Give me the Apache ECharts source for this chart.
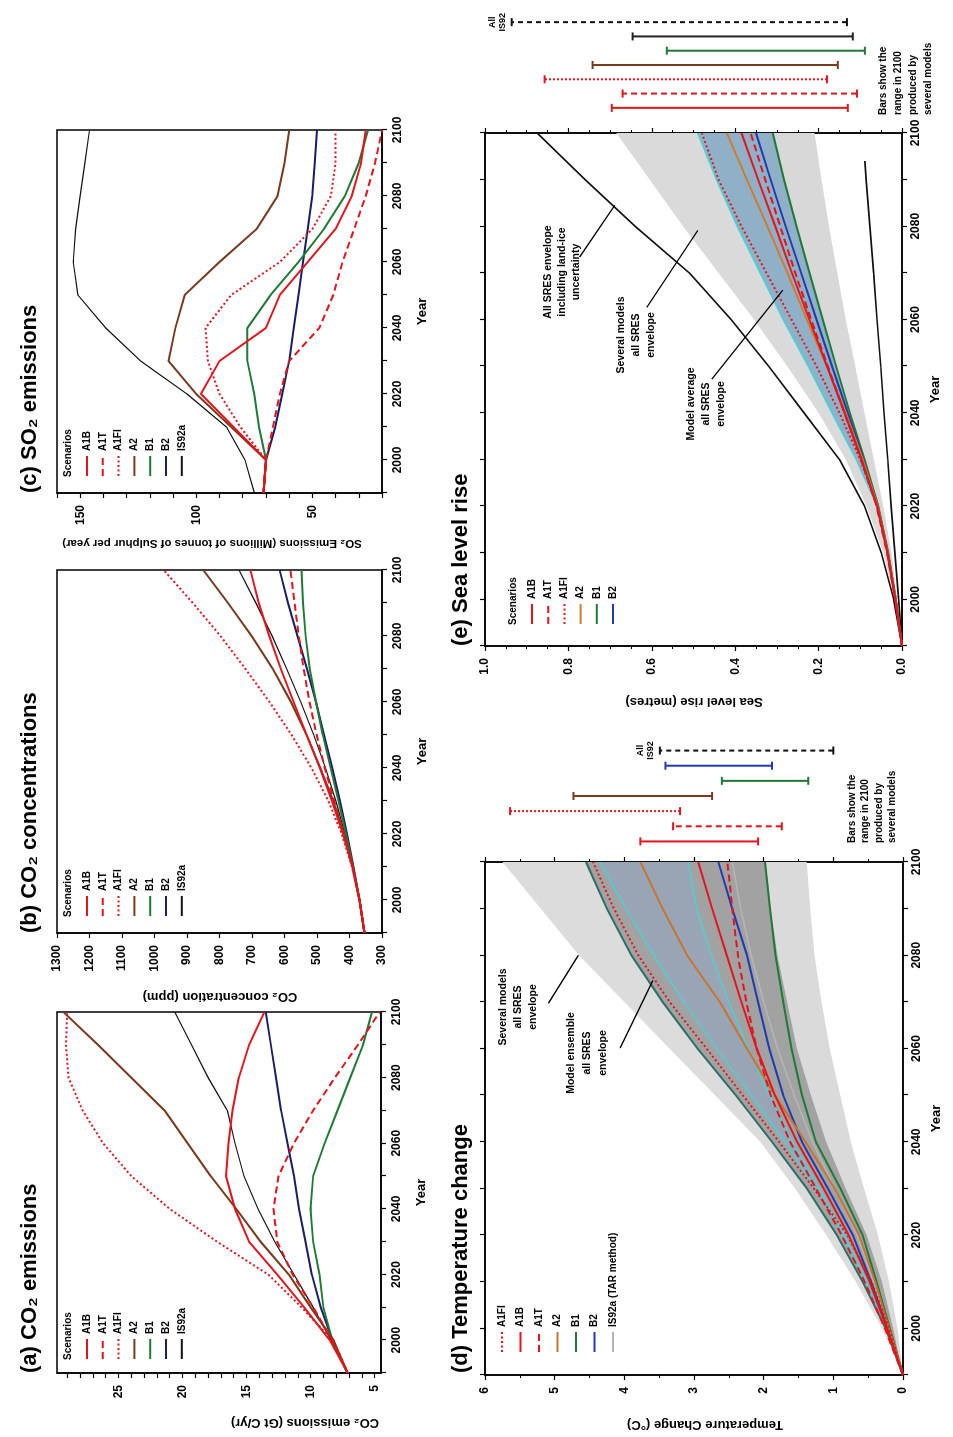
<!DOCTYPE html>
<html><head><meta charset="utf-8">
<script src="https://cdn.jsdelivr.net/npm/echarts@6/dist/echarts.min.js"></script>
<style>
html,body{margin:0;padding:0;background:#fff;overflow:hidden;width:953px;height:1437px;}
#rot{position:absolute;left:0;top:0;width:1437px;height:953px;transform-origin:0 0;transform:translate(0px,1437px) rotate(-90deg);}
#chart{width:1437px;height:953px;}
</style></head><body>
<div id="rot"><div id="chart"></div></div>
<script>
// ---------------- DATA ----------------
const years = [1990,2000,2010,2020,2030,2040,2050,2060,2070,2080,2090,2100];

// (a) CO2 emissions (Gt C/yr)
const emA1B  = [7.1, 8.5, 10.5, 12.6, 14.8, 15.9, 16.6, 16.4, 16.1, 15.6, 14.8, 13.6];
const emA1T  = [7.1, 8.3, 9.8, 11.4, 12.6, 12.9, 12.5, 11.3, 9.8, 8.1, 6.3, 4.6];
const emA1FI = [7.1, 8.3, 10.7, 13.3, 17.3, 21.0, 24.0, 26.2, 27.8, 28.9, 29.1, 29.0];
const emA2   = [7.1, 8.2, 10.0, 11.7, 13.9, 15.8, 17.8, 19.6, 21.4, 24.0, 26.6, 29.3];
const emB1   = [7.1, 8.3, 9.0, 9.3, 9.8, 10.0, 9.8, 8.9, 7.9, 6.9, 5.9, 5.2];
const emB2   = [7.1, 8.3, 9.2, 9.9, 10.4, 10.9, 11.3, 11.8, 12.3, 12.7, 13.1, 13.5];
const emIS92a= [7.1, 8.4, 9.8, 11.3, 12.8, 14.1, 15.2, 15.9, 16.5, 18.0, 19.3, 20.6];
const emTicks  = [5,6,7,8,9,10,11,12,13,14,15,16,17,18,19,20,21,22,23,24,25,26,27,28,29];
const emLabels = [5,10,15,20,25];

// (b) CO2 concentrations (ppm)
const ppA1B  = [354, 369, 391, 420, 454, 491, 532, 572, 611, 647, 679, 705];
const ppA1T  = [354, 369, 390, 417, 447, 476, 501, 523, 541, 556, 569, 582];
const ppA1FI = [354, 369, 392, 424, 465, 517, 578, 646, 720, 797, 882, 972];
const ppA2   = [354, 369, 391, 417, 450, 490, 532, 580, 636, 701, 774, 850];
const ppB1   = [354, 369, 389, 411, 434, 458, 482, 503, 522, 535, 543, 548];
const ppB2   = [354, 369, 388, 408, 429, 453, 478, 503, 531, 560, 589, 615];
const ppIS92a= [354, 369, 390, 414, 442, 474, 510, 550, 593, 638, 688, 740];

// (c) SO2 emissions (Mt S/yr)
const soA1B  = [71, 70, 84, 98, 90, 70, 64, 52, 40, 33, 29, 27];
const soA1T  = [71, 70, 67, 64, 60, 47, 41, 37, 32, 27, 23, 20];
const soA1FI = [71, 70, 81, 90, 95, 96, 85, 64, 50, 42, 40, 40];
const soA2   = [71, 70, 85, 100, 112, 109, 105, 90, 74, 65, 62, 60];
const soB1   = [71, 70, 73, 75, 78, 78, 68, 56, 45, 36, 30, 26];
const soB2   = [71, 70, 66, 63, 60, 58, 56, 54, 52, 50, 49, 48];
const soIS92a= [75, 79, 87, 104, 124, 139, 151, 153, 152, 150, 148, 146];

// (d) Temperature change (deg C)
const tOuterUpper = [0, 0.3, 0.68, 1.1, 1.55, 2.05, 2.7, 3.35, 4.0, 4.65, 5.2, 5.75];
const tInnerUpper = [0, 0.25, 0.58, 0.95, 1.38, 1.88, 2.4, 2.95, 3.45, 3.9, 4.25, 4.55];
const tInnerLower = [0, 0.14, 0.3, 0.52, 0.82, 1.1, 1.32, 1.52, 1.66, 1.8, 1.9, 1.97];
const tOuterLower = [0, 0.08, 0.2, 0.36, 0.56, 0.75, 0.9, 1.05, 1.17, 1.27, 1.33, 1.38];
const tCyanA = [0, 0.22, 0.52, 0.86, 1.25, 1.7, 2.18, 2.68, 3.15, 3.58, 3.98, 4.35];
const tCyanB = [0, 0.24, 0.52, 0.84, 1.2, 1.58, 1.92, 2.22, 2.5, 2.75, 2.96, 3.08];
const tA1FI = [0, 0.2, 0.45, 0.8, 1.28, 1.78, 2.3, 2.82, 3.35, 3.8, 4.15, 4.45];
const tA1B  = [0, 0.23, 0.48, 0.78, 1.14, 1.52, 1.84, 2.1, 2.32, 2.53, 2.74, 2.94];
const tA1T  = [0, 0.26, 0.55, 0.88, 1.25, 1.62, 1.9, 2.1, 2.25, 2.37, 2.45, 2.52];
const tA2   = [0, 0.2, 0.4, 0.63, 0.98, 1.4, 1.84, 2.24, 2.63, 3.1, 3.45, 3.77];
const tB1   = [0, 0.19, 0.38, 0.58, 0.9, 1.25, 1.45, 1.6, 1.72, 1.83, 1.91, 1.98];
const tB2   = [0, 0.22, 0.46, 0.72, 1.08, 1.45, 1.72, 1.92, 2.08, 2.24, 2.45, 2.65];
const tIS92a= [0, 0.2, 0.42, 0.66, 0.98, 1.3, 1.56, 1.8, 2.0, 2.18, 2.33, 2.45];
const barNames = ['A1B','A1T','A1FI','A2','B1','B2','All IS92'];
const tBarLow  = [2.08, 1.74, 3.20, 2.74, 1.36, 1.88, 1.00];
const tBarHigh = [3.77, 3.30, 5.64, 4.73, 2.60, 3.41, 3.49];

// (e) Sea level rise (metres)
const sOuterUpper = [0, 0.018, 0.045, 0.085, 0.135, 0.2, 0.275, 0.355, 0.44, 0.525, 0.605, 0.685];
const sInnerUpper = [0, 0.016, 0.036, 0.06, 0.11, 0.168, 0.225, 0.285, 0.34, 0.395, 0.445, 0.49];
const sInnerLower = [0, 0.015, 0.033, 0.057, 0.09, 0.125, 0.158, 0.19, 0.222, 0.253, 0.283, 0.31];
const sOuterLower = [0, 0.012, 0.025, 0.045, 0.068, 0.09, 0.112, 0.135, 0.155, 0.175, 0.193, 0.21];
const sIceUpper = [0, 0.02, 0.05, 0.09, 0.15, 0.235, 0.32, 0.41, 0.51, 0.64, 0.76, 0.875];
const iceLowYears = [1990,2000,2010,2020,2030,2040,2050,2060,2070,2080,2090,2094];
const sIceLower = [0, 0.008, 0.017, 0.026, 0.034, 0.043, 0.051, 0.06, 0.068, 0.077, 0.086, 0.089];
const sA1FI = [0, 0.016, 0.035, 0.059, 0.1, 0.15, 0.205, 0.265, 0.325, 0.385, 0.44, 0.48];
const sA2   = [0, 0.015, 0.034, 0.058, 0.094, 0.135, 0.18, 0.228, 0.275, 0.323, 0.372, 0.42];
const sA1B  = [0, 0.016, 0.035, 0.06, 0.097, 0.138, 0.18, 0.222, 0.264, 0.304, 0.345, 0.385];
const sA1T  = [0, 0.016, 0.036, 0.061, 0.098, 0.138, 0.178, 0.218, 0.256, 0.292, 0.328, 0.363];
const sB2   = [0, 0.015, 0.034, 0.058, 0.093, 0.13, 0.168, 0.205, 0.242, 0.279, 0.315, 0.35];
const sB1   = [0, 0.015, 0.033, 0.057, 0.09, 0.125, 0.158, 0.19, 0.222, 0.253, 0.283, 0.31];
const sBarLow  = [0.130, 0.108, 0.180, 0.154, 0.089, 0.118, 0.132];
const sBarHigh = [0.696, 0.670, 0.857, 0.742, 0.564, 0.646, 0.936];

// annotation arrows (data coordinates: [year, value])
const tArrows = [[[2069.7,5.09],[2080.0,4.66]], [[2060.1,4.06],[2074.6,3.59]]];
const sArrows = [[[2073.4,0.773],[2084.5,0.689]], [[2062.6,0.612],[2079.1,0.49]], [[2047.2,0.456],[2066.3,0.286]]];

// ---------------- STYLE ----------------
const FT = "'Liberation Sans', Arial, Helvetica, sans-serif";
const FN = "'Liberation Sans Narrow', 'Liberation Sans', Arial, sans-serif";
const RED='#e5141c', BROWN='#7a3a1e', GREEN='#1f7a35', NAVY='#1b1e66', BLK='#111111';
const ST = {
  A1B:{c:RED,t:'solid',w:2}, A1T:{c:RED,t:[7,4],w:2}, A1FI:{c:RED,t:[2,2.5],w:2},
  A2:{c:BROWN,t:'solid',w:2}, B1:{c:GREEN,t:'solid',w:2}, B2:{c:NAVY,t:'solid',w:2},
  IS92a:{c:BLK,t:'solid',w:1.2}
};
const STD = Object.assign({}, ST, {A2:{c:'#c8742e',t:'solid',w:2}, B2:{c:'#1f3bb0',t:'solid',w:2}, IS92a:{c:'#b5b5b5',t:'solid',w:1.6}});
const STE = Object.assign({}, ST, {A2:{c:'#d07a30',t:'solid',w:2}, B2:{c:'#1f3bb0',t:'solid',w:2}});
const barStD = {A1B:{c:RED}, A1T:{c:RED,d:[6,4]}, A1FI:{c:RED,d:[2,2]}, A2:{c:BROWN}, B1:{c:GREEN}, B2:{c:'#1f3bb0'}, 'All IS92':{c:BLK,d:[5,4]}};
const barStE = {A1B:{c:RED}, A1T:{c:RED,d:[6,4]}, A1FI:{c:RED,d:[2,2]}, A2:{c:BROWN}, B1:{c:GREEN}, B2:{c:'#222'}, 'All IS92':{c:BLK,d:[5,4]}};

const TXT = {color:'#000', fontFamily:FN, fontWeight:'bold', fontSize:12};
const lbl = o => Object.assign({}, TXT, {margin:12, formatter:v=>String(v)}, o||{});
const tck = o => Object.assign({show:true, inside:false, length:5, lineStyle:{color:'#000', width:1.2}}, o||{});
const AXL = {show:true, onZero:false, lineStyle:{color:'#000', width:1.5}};

const grids=[], xAxes=[], yAxes=[], series=[], legends=[], graphics=[];
function addGrid(g){ grids.push(Object.assign({show:false, containLabel:false, outerBoundsMode:'none'}, g)); return grids.length-1; }
function frame(g){ return Object.assign({show:true, borderColor:'#000', borderWidth:1.5, backgroundColor:'transparent'}, g); }
function yearAxis(gi, pos, showLabel, margin, nameGap){
  xAxes.push({type:'value', gridIndex:gi, position:pos, min:1990, max:2100, interval:10,
    axisLine:AXL, axisTick:tck(), splitLine:{show:false},
    axisLabel: showLabel ? lbl({margin:margin, formatter:v=>(v%20===0?String(v):'')}) : {show:false},
    name: showLabel?'Year':'', nameLocation:'middle', nameGap:nameGap||30,
    nameTextStyle:Object.assign({}, TXT, {fontSize:13})});
  return xAxes.length-1;
}
function valAxis(o){ yAxes.push(Object.assign({type:'value', axisLine:AXL, splitLine:{show:false}}, o)); return yAxes.length-1; }

function lineS(name, xi, yi, xs, ys, st, z, extra){
  return Object.assign({type:'line', name, xAxisIndex:xi, yAxisIndex:yi,
    data: xs.map((x,i)=>[x, ys[i]]), symbol:'none', showSymbol:false, silent:true,
    lineStyle:{color:st.c, width:st.w, type:st.t}, itemStyle:{color:st.c}, z:z||3}, extra||{});
}
// filled band between two boundary curves, drawn through the axes' scales
function band(xi, yi, xs, lower, upper, fill, z){
  series.push({type:'custom', xAxisIndex:xi, yAxisIndex:yi, silent:true, z:z||1,
    data:[[xs[0], lower[0]]],
    renderItem:(params, api)=>{
      const pts=[];
      for(let i=0;i<xs.length;i++) pts.push(api.coord([xs[i], upper[i]]));
      for(let i=xs.length-1;i>=0;i--) pts.push(api.coord([xs[i], lower[i]]));
      return {type:'polygon', shape:{points:pts}, style:{fill:fill, stroke:null, lineWidth:0}};
    }});
}
function barSeries(xi, yi, names, lows, highs, styles){
  series.push({type:'custom', xAxisIndex:xi, yAxisIndex:yi, silent:true, z:5,
    data: names.map((n,i)=>[i, lows[i], highs[i]]),
    renderItem:(params, api)=>{
      const i=api.value(0), n=names[i], st=styles[n];
      const a=api.coord([i, api.value(1)]), b=api.coord([i, api.value(2)]);
      const cap=4;
      const kids=[
        {type:'line', shape:{x1:a[0],y1:a[1],x2:b[0],y2:b[1]}, style:{stroke:st.c, lineWidth:2, lineDash:st.d||null}},
        {type:'line', shape:{x1:a[0]-cap,y1:a[1],x2:a[0]+cap,y2:a[1]}, style:{stroke:st.c, lineWidth:2}},
        {type:'line', shape:{x1:b[0]-cap,y1:b[1],x2:b[0]+cap,y2:b[1]}, style:{stroke:st.c, lineWidth:2}}];
      if(n==='All IS92') kids.push({type:'text', x:b[0], y:b[1]-4,
        style:{text:'All\nIS92', fill:'#000', font:'bold 9px '+FN, align:'center', verticalAlign:'bottom', textAlign:'center', textVerticalAlign:'bottom', lineHeight:10}});
      return {type:'group', children:kids};
    }});
}
function legendFor(names, suffix, left, top, gap){
  legends.push({orient:'vertical', left, top, itemWidth:20, itemHeight:10, itemGap:gap, padding:0,
    selectedMode:false, data: names.map(n=>n+suffix), formatter:n=>n.split('#')[0],
    itemStyle:{opacity:0},
    textStyle:{color:'#000', fontFamily:FN, fontWeight:'bold', fontSize:10}});
}
function text(x, y, t, font, o){
  graphics.push({type:'text', x, y, silent:true, rotation:(o&&o.rot)||0,
    style:{text:t, font, fill:'#000', textAlign:(o&&o.align)||'left', align:(o&&o.align)||'left',
      textVerticalAlign:(o&&o.va)||'middle', verticalAlign:(o&&o.va)||'middle', lineHeight:(o&&o.lh)||undefined}});
}
function arrowLine(pairs){
  return {silent:true, symbol:['none','arrow'], symbolSize:[0,8], animation:false,
    lineStyle:{color:'#000', width:1.3, type:'solid'}, label:{show:false},
    data: pairs.map(p=>[{coord:p[0]},{coord:p[1]}])};
}

const order7 = ['A1B','A1T','A1FI','A2','B1','B2','IS92a'];
const drawOrder = ['IS92a','B2','B1','A2','A1FI','A1T','A1B'];

// ---------- (a) ----------
const gA = addGrid(frame({left:64, top:57, width:361, height:324}));
const xA = yearAxis(gA,'bottom',true,10,34);
const yA = valAxis({gridIndex:gA, position:'left', min:4.5, max:29.8,
  axisTick:tck({customValues:emTicks}), axisLabel:lbl({customValues:emLabels})});
const emMap = {A1B:emA1B, A1T:emA1T, A1FI:emA1FI, A2:emA2, B1:emB1, B2:emB2, IS92a:emIS92a};
drawOrder.forEach(n=>series.push(lineS(n+'#a', xA, yA, years, emMap[n], ST[n])));
legendFor(order7, '#a', 77, 82, 5.8);
text(77, 68, 'Scenarios', 'bold 10px '+FN);

// ---------- (b) ----------
const gB = addGrid(frame({left:504, top:57, width:363, height:325}));
const xB = yearAxis(gB,'bottom',true,10,34);
const yB = valAxis({gridIndex:gB, position:'left', min:300, max:1300, interval:100,
  axisTick:tck(), axisLabel:lbl()});
const ppMap = {A1B:ppA1B, A1T:ppA1T, A1FI:ppA1FI, A2:ppA2, B1:ppB1, B2:ppB2, IS92a:ppIS92a};
drawOrder.forEach(n=>series.push(lineS(n+'#b', xB, yB, years, ppMap[n], ST[n])));
legendFor(order7, '#b', 520, 82, 5.8);
text(520, 68, 'Scenarios', 'bold 10px '+FN);

// ---------- (c) ----------
const gC = addGrid(frame({left:944, top:57, width:363, height:325}));
const xC = yearAxis(gC,'bottom',true,10,34);
const yC = valAxis({gridIndex:gC, position:'left', min:20, max:160, interval:10,
  axisTick:tck(), axisLabel:lbl({formatter:v=>(v%50===0?String(v):'')})});
const soMap = {A1B:soA1B, A1T:soA1T, A1FI:soA1FI, A2:soA2, B1:soB1, B2:soB2, IS92a:soIS92a};
drawOrder.forEach(n=>series.push(lineS(n+'#c', xC, yC, years, soMap[n], ST[n])));
legendFor(order7, '#c', 960, 82, 5.8);
text(960, 68, 'Scenarios', 'bold 10px '+FN);

// ---------- (d) ----------
const gD = addGrid(frame({left:62, top:485, width:513, height:418}));
const xD = yearAxis(gD,'bottom',true,8,27);
yearAxis(gD,'top',false);
const yD = valAxis({gridIndex:gD, position:'left', min:0, max:6, interval:1,
  axisTick:tck(), minorTick:{show:true, splitNumber:2, length:3, lineStyle:{color:'#000'}}, axisLabel:lbl()});
valAxis({gridIndex:gD, position:'right', min:0, max:6, interval:1,
  axisTick:tck(), minorTick:{show:true, splitNumber:2, length:3, lineStyle:{color:'#000'}}, axisLabel:{show:false}});
band(xD, yD, years, tOuterLower, tInnerLower, '#dadada');
band(xD, yD, years, tInnerLower, tInnerUpper, '#a2a2a2');
band(xD, yD, years, tInnerUpper, tOuterUpper, '#dcdcdc');
band(xD, yD, years, tCyanB, tCyanA, 'rgba(140,170,210,0.38)', 1);
series.push(lineS('cyanA#d', xD, yD, years, tCyanA, {c:'#46d2d8',t:'solid',w:1.4}, 2));
series.push(lineS('cyanB#d', xD, yD, years, tCyanB, {c:'#46d2d8',t:'solid',w:1.4}, 2));
series.push(lineS('upper#d', xD, yD, years, tInnerUpper, {c:'#2b6f68',t:'solid',w:2}, 2));
const tMap = {A1B:tA1B, A1T:tA1T, A1FI:tA1FI, A2:tA2, B1:tB1, B2:tB2};
series.push(lineS('IS92a (TAR method)#d', xD, yD, years, tIS92a, STD.IS92a, 3, {markLine: arrowLine(tArrows)}));
['B1','B2','A2','A1T','A1B','A1FI'].forEach(n=>series.push(lineS(n+'#d', xD, yD, years, tMap[n], STD[n])));
legendFor(['A1FI','A1B','A1T','A2','B1','B2','IS92a (TAR method)'], '#d', 84, 497, 8.5);
const gDB = addGrid({left:588, top:485, width:106, height:418});
xAxes.push({type:'category', gridIndex:gDB, data:barNames, show:false, boundaryGap:true}); const xDB = xAxes.length-1;
yAxes.push({type:'value', gridIndex:gDB, min:0, max:6, show:false}); const yDB = yAxes.length-1;
barSeries(xDB, yDB, barNames, tBarLow, tBarHigh, barStD);

// ---------- (e) ----------
const gE = addGrid(frame({left:791, top:485, width:513, height:417}));
const xE = yearAxis(gE,'bottom',true,8,27);
yearAxis(gE,'top',false);
const yE = valAxis({gridIndex:gE, position:'left', min:0, max:1, interval:0.2,
  axisTick:tck(), minorTick:{show:true, splitNumber:4, length:3, lineStyle:{color:'#000'}}, axisLabel:lbl({formatter:v=>v.toFixed(1)})});
valAxis({gridIndex:gE, position:'right', min:0, max:1, interval:0.2,
  axisTick:tck(), minorTick:{show:true, splitNumber:4, length:3, lineStyle:{color:'#000'}}, axisLabel:{show:false}});
band(xE, yE, years, sOuterLower, sInnerLower, '#d8d8d8');
band(xE, yE, years, sInnerLower, sInnerUpper, '#8fb0c6');
band(xE, yE, years, sInnerUpper, sOuterUpper, '#dadada');
series.push(lineS('supper#e', xE, yE, years, sInnerUpper, {c:'#46d2d8',t:'solid',w:1.6}, 2));
series.push(lineS('iceU#e', xE, yE, years, sIceUpper, {c:BLK,t:'solid',w:1.6}, 3, {markLine: arrowLine(sArrows)}));
series.push(lineS('iceL#e', xE, yE, iceLowYears, sIceLower, {c:BLK,t:'solid',w:1.6}, 3));
const sMap = {A1B:sA1B, A1T:sA1T, A1FI:sA1FI, A2:sA2, B1:sB1, B2:sB2};
['B1','B2','A2','A1T','A1B','A1FI'].forEach(n=>series.push(lineS(n+'#e', xE, yE, years, sMap[n], STE[n])));
legendFor(['A1B','A1T','A1FI','A2','B1','B2'], '#e', 812, 527, 6.2);
text(812, 513, 'Scenarios', 'bold 10px '+FN);
const gEB = addGrid({left:1322, top:485, width:100, height:417});
xAxes.push({type:'category', gridIndex:gEB, data:barNames, show:false, boundaryGap:true}); const xEB = xAxes.length-1;
yAxes.push({type:'value', gridIndex:gEB, min:0, max:1, show:false}); const yEB = yAxes.length-1;
barSeries(xEB, yEB, barNames, sBarLow, sBarHigh, barStE);

// ---------- texts ----------
const TF = 'bold 22px '+FT, NF = 'bold 13px '+FN, AF = 'bold 10.5px '+FN;
text(64, 30, '(a) CO₂ emissions', TF);
text(504, 30, '(b) CO₂ concentrations', TF);
text(944, 30, '(c) SO₂ emissions', TF);
text(64, 461, '(d) Temperature change', TF);
text(791, 461, '(e) Sea level rise', TF);
text(14, 305, 'CO₂ emissions (Gt C/yr)', NF, {rot:Math.PI/2, align:'center'});
text(440, 220, 'CO₂ concentration (ppm)', NF, {rot:Math.PI/2, align:'center'});
text(894, 212, 'SO₂ Emissions (Millions of tonnes of Sulphur per year)', 'bold 11.5px '+FN, {rot:Math.PI/2, align:'center'});
text(12, 705, 'Temperature Change (°C)', NF, {rot:Math.PI/2, align:'center'});
text(735, 694, 'Sea level rise (metres)', NF, {rot:Math.PI/2, align:'center'});
text(430, 496, 'Several models\nall SRES\nenvelope', AF, {align:'center', va:'top', lh:15});
text(384, 563, 'Model ensemble\nall SRES\nenvelope', AF, {align:'center', va:'top', lh:16});
text(1165, 541, 'All SRES envelope\nincluding land-ice\nuncertainty', AF, {align:'center', va:'top', lh:14});
text(1102, 614, 'Several models\nall SRES\nenvelope', AF, {align:'center', va:'top', lh:15});
text(1033, 684, 'Model average\nall SRES\nenvelope', AF, {align:'center', va:'top', lh:15});
text(594, 845, 'Bars show the\nrange in 2100\nproduced by\nseveral models', 'bold 10px '+FN, {va:'top', lh:13.5});
text(1322, 876, 'Bars show the\nrange in 2100\nproduced by\nseveral models', 'bold 10px '+FN, {va:'top', lh:15});

const chart = echarts.init(document.getElementById('chart'), null, {renderer:'canvas', width:1437, height:953});
chart.setOption({animation:false, backgroundColor:'#fff', grid:grids, xAxis:xAxes, yAxis:yAxes,
  legend:legends, series, graphic:graphics});
</script></body></html>
